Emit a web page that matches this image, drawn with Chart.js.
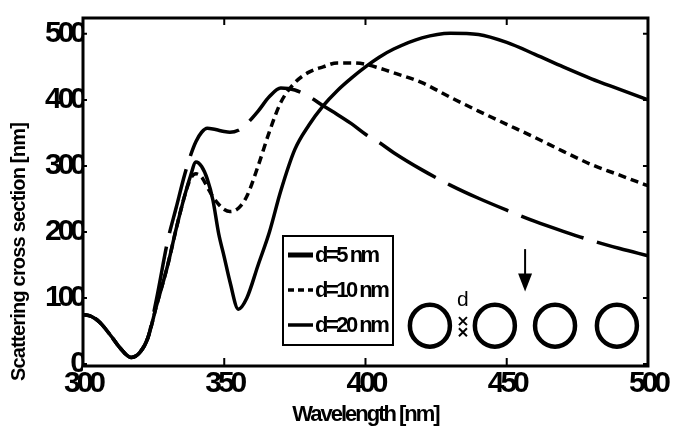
<!DOCTYPE html>
<html>
<head>
<meta charset="utf-8">
<script src="https://cdn.jsdelivr.net/npm/chart.js@4.4.0/dist/chart.umd.min.js"></script>
<style>
  body { margin: 0; background: #fff; }
  canvas { display: block; }
</style>
</head>
<body>
<canvas id="scatterChart" width="673" height="430"></canvas>
<script>
    // values (wavelength in nm, cross section in nm)
    const wavelengths = [300, 303, 306, 310, 313, 317, 320, 323, 326, 330, 333, 336, 338, 340, 342, 344, 346, 348, 350, 352, 355, 358, 362, 366, 370, 375, 380, 385, 390, 395, 400, 405, 410, 420, 430, 440, 450, 460, 470, 480, 490, 500];
    const d5 = [75, 72, 63, 42, 25, 10, 17, 40, 88, 150, 205, 255, 284, 306, 299, 280, 248, 198, 162, 125, 83, 100, 150, 200, 262, 325, 362, 391, 414, 433, 450, 465, 477, 494, 501, 499, 487, 469, 450, 432, 416, 400];
    const d10 = [75, 72, 63, 42, 25, 10, 17, 40, 88, 150, 205, 255, 280, 288, 283, 268, 253, 242, 234, 231, 236, 254, 300, 352, 396, 426, 442, 450, 456, 456, 454, 448, 441, 426, 404, 383, 363, 343, 322, 302, 286, 270];
    const d20 = [75, 72, 63, 42, 25, 10, 17, 40, 98, 187, 237, 287, 315, 337, 351, 357, 356, 354, 352, 351, 354, 364, 383, 405, 418, 415, 405, 391, 378, 364, 348, 335, 320, 294, 271, 251, 233, 216, 201, 187, 175, 164];
    const seriesLabels = ['d=5 nm', 'd=10 nm', 'd=20 nm'];
    const xTicks = [300, 350, 400, 450, 500];
    const yTicks = [0, 100, 200, 300, 400, 500];

    const FONT = "'Liberation Sans', Arial, sans-serif";
    const LONG_DASH = [66, 14];

    function toPoints(values) {
      return wavelengths.map((w, i) => ({ x: w, y: values[i] }));
    }

    function drawText(ctx, text, x, y, font, spacing, angle) {
      ctx.save();
      ctx.translate(x, y);
      ctx.rotate(angle || 0);
      ctx.font = font;
      ctx.letterSpacing = spacing + 'px';
      ctx.fillText(text, 0, 0);
      ctx.restore();
    }

    // the original uses very squeezed type, so tighten the tick labels a lot
    const squeeze = {
      id: 'squeeze',
      beforeDraw(chart) {
        chart.ctx.letterSpacing = '-4px';
      },
      afterDraw(chart) {
        chart.ctx.letterSpacing = '0px';
      }
    };

    // frame, inward ticks, axis titles, legend box and the little sketch of rings
    const decorations = {
      id: 'decorations',
      afterDraw(chart) {
        const ctx = chart.ctx;
        const xs = chart.scales.x;
        const ys = chart.scales.y;
        const { left, right, top, bottom } = chart.chartArea;

        ctx.save();
        ctx.letterSpacing = '0px';
        ctx.strokeStyle = '#000';
        ctx.fillStyle = '#000';

        // ticks pointing into the plot
        ctx.lineWidth = 2;
        xTicks.slice(1, -1).forEach(v => {
          const px = xs.getPixelForValue(v);
          ctx.beginPath();
          ctx.moveTo(px, bottom); ctx.lineTo(px, bottom - 8);
          ctx.moveTo(px, top); ctx.lineTo(px, top + 7);
          ctx.stroke();
        });
        yTicks.forEach(v => {
          const py = ys.getPixelForValue(v);
          ctx.beginPath();
          ctx.moveTo(left, py); ctx.lineTo(left + 4, py);
          ctx.moveTo(right, py); ctx.lineTo(right - 5, py);
          ctx.stroke();
        });

        // box
        ctx.lineWidth = 3;
        ctx.strokeRect(left, top, right - left, bottom - top);

        // axis titles
        ctx.textBaseline = 'middle';
        ctx.textAlign = 'center';
        drawText(ctx, 'Wavelength [nm]', (left + right) / 2, 415, 'bold 22px ' + FONT, -2, 0);
        drawText(ctx, 'Scattering cross section [nm]', 19, 252, 'bold 20px ' + FONT, -0.8, -Math.PI / 2);

        // legend
        const lx = 283, ly = 236, lw = 110, lh = 109;
        ctx.fillStyle = '#fff';
        ctx.fillRect(lx, ly, lw, lh);
        ctx.lineWidth = 2;
        ctx.strokeRect(lx, ly, lw, lh);
        ctx.fillStyle = '#000';
        ctx.textAlign = 'left';
        chart.data.datasets.forEach((ds, i) => {
          const rowY = ly + 19 + i * 35;
          ctx.beginPath();
          ctx.lineWidth = i === 0 ? 5 : 3.5;
          ctx.setLineDash(i === 1 ? [6, 4] : []);
          ctx.moveTo(lx + 5, rowY);
          ctx.lineTo(lx + 30, rowY);
          ctx.stroke();
          ctx.setLineDash([]);
          drawText(ctx, ds.label, lx + 32, rowY + 1, 'bold 22px ' + FONT, -2.5, 0);
        });

        // rings of the sketch
        ctx.lineWidth = 4.5;
        const ringY = ys.getPixelForValue(58);
        [422.8, 445.8, 467.1, 489].forEach(w => {
          ctx.beginPath();
          ctx.ellipse(xs.getPixelForValue(w), ringY, 20, 21, 0, 0, Math.PI * 2);
          ctx.stroke();
        });

        // gap marker "d" with two small crosses
        const gx = xs.getPixelForValue(434.5);
        ctx.textAlign = 'center';
        drawText(ctx, 'd', gx, ys.getPixelForValue(97), '21px ' + FONT, 0, 0);
        ctx.lineWidth = 2;
        [65, 48].forEach(v => {
          const gy = ys.getPixelForValue(v);
          ctx.beginPath();
          ctx.moveTo(gx - 4, gy - 4); ctx.lineTo(gx + 4, gy + 4);
          ctx.moveTo(gx + 4, gy - 4); ctx.lineTo(gx - 4, gy + 4);
          ctx.stroke();
        });

        // arrow
        const ax = xs.getPixelForValue(456.5);
        const ay1 = ys.getPixelForValue(174);
        const ay2 = ys.getPixelForValue(110);
        ctx.lineWidth = 2;
        ctx.beginPath();
        ctx.moveTo(ax, ay1); ctx.lineTo(ax, ay2 - 14);
        ctx.stroke();
        ctx.beginPath();
        ctx.moveTo(ax - 7, ay2 - 18);
        ctx.lineTo(ax + 7, ay2 - 18);
        ctx.lineTo(ax, ay2);
        ctx.closePath();
        ctx.fill();

        ctx.restore();
      }
    };

    const lineStyle = {
      borderColor: '#000',
      borderWidth: 3.5,
      pointRadius: 0,
      fill: false,
      cubicInterpolationMode: 'monotone'
    };

    const scatterChart = new Chart(document.getElementById('scatterChart'), {
      type: 'line',
      data: {
        datasets: [
          { ...lineStyle, label: seriesLabels[0], data: toPoints(d5) },
          { ...lineStyle, label: seriesLabels[1], data: toPoints(d10), borderDash: [8, 5] },
          { ...lineStyle, label: seriesLabels[2], data: toPoints(d20), borderDash: LONG_DASH }
        ]
      },
      options: {
        responsive: false,
        animation: false,
        devicePixelRatio: 1,
        layout: { padding: { top: 12, right: 25, left: 0, bottom: 0 } },
        plugins: {
          legend: { display: false },
          tooltip: { enabled: false }
        },
        scales: {
          x: {
            type: 'linear',
            min: 300,
            max: 500,
            grid: { display: false, drawTicks: false },
            border: { display: false },
            afterBuildTicks: s => { s.ticks = xTicks.map(v => ({ value: v })); },
            afterFit: s => { s.height = 64; },
            ticks: {
              color: '#000',
              padding: 0,
              maxRotation: 0,
              font: { family: FONT, size: 30, weight: 'bold' }
            }
          },
          y: {
            min: -3,
            max: 524,
            grid: { display: false, drawTicks: false },
            border: { display: false },
            afterBuildTicks: s => { s.ticks = yTicks.map(v => ({ value: v })); },
            afterFit: s => { s.width = 83; },
            ticks: {
              color: '#000',
              padding: 0,
              font: { family: FONT, size: 30, weight: 'bold' }
            }
          }
        }
      },
      plugins: [squeeze, decorations]
    });

    // line the long dashes up so that a gap opens near 451 nm, as in the figure
    function alignLongDash() {
      const pts = scatterChart.getDatasetMeta(2).data;
      const target = scatterChart.scales.x.getPixelForValue(451);
      let length = 0;
      for (let i = 1; i < pts.length; i++) {
        const a = pts[i - 1], b = pts[i];
        const seg = Math.hypot(b.x - a.x, b.y - a.y);
        if (b.x >= target) {
          length += seg * (target - a.x) / (b.x - a.x);
          break;
        }
        length += seg;
      }
      const period = LONG_DASH[0] + LONG_DASH[1];
      scatterChart.data.datasets[2].borderDashOffset = ((LONG_DASH[0] - length) % period + period) % period;
      scatterChart.update();
    }
    alignLongDash();
</script>
</body>
</html>
